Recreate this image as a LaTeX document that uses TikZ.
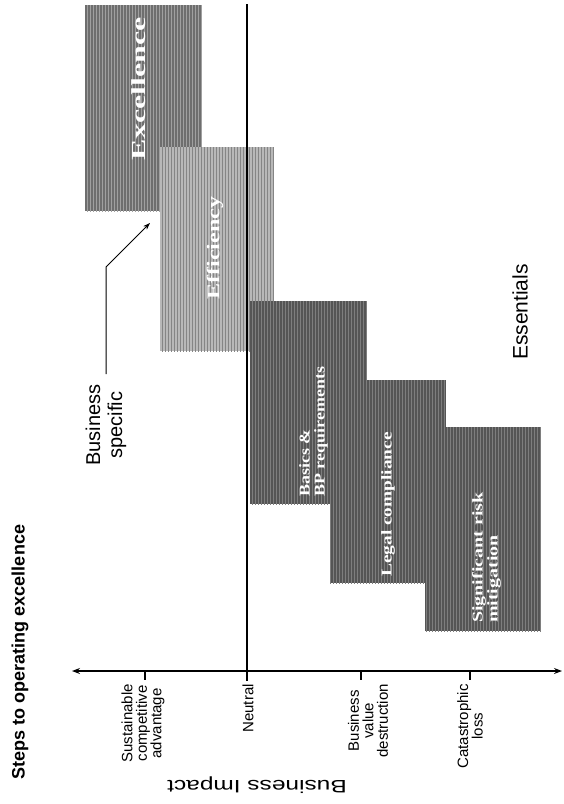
\documentclass[tikz,border=0pt]{standalone}
\usepackage{fontspec}
\usepackage{graphicx}
\setmainfont{Liberation Serif}
\setsansfont{Liberation Sans}
\usetikzlibrary{arrows.meta,patterns}
\definecolor{excfill}{HTML}{6E6E6E}
\definecolor{excline}{HTML}{A0A0A0}
\definecolor{efffill}{HTML}{B8B8B8}
\definecolor{effline}{HTML}{858585}
\definecolor{essfill}{HTML}{555555}
\definecolor{essline}{HTML}{7E7E7E}
\begin{document}
\begin{tikzpicture}[x=1pt,y=-1pt,
  box/.style={rectangle, inner sep=0pt, outer sep=0pt, draw=none},
  excbox/.style={box, preaction={fill=excfill}, pattern=vertical lines, pattern color=excline},
  effbox/.style={box, preaction={fill=efffill}, pattern=vertical lines, pattern color=effline},
  essbox/.style={box, preaction={fill=essfill}, pattern=vertical lines, pattern color=essline},
  boxtext/.style={rotate=90, text=white, inner sep=0pt, font={\fontsize{15}{15}\selectfont\rmfamily\bfseries}},
  ticklabel/.style={rotate=90, anchor=east, align=center, inner sep=0pt, font={\fontsize{15}{14.5}\selectfont\sffamily}},
  axisline/.style={line width=1.2pt, {Stealth[length=8pt,width=6pt]}-{Stealth[length=8pt,width=6pt]}},
  tickline/.style={line width=1.2pt},
  lead/.style={line width=1pt, -{Stealth[length=7pt,width=5pt]}}
]
\useasboundingbox (0,0) rectangle (563,804);

% boxes
\node[excbox, minimum width=117pt, minimum height=206pt] (exc) at (143.5,108) {};
\node[effbox, minimum width=114pt, minimum height=204pt] (eff) at (217,249) {};
\node[essbox, minimum width=117pt, minimum height=203pt] (bas) at (308.5,402.5) {};
\node[essbox, minimum width=116pt, minimum height=203pt] (leg) at (388,481.5) {};
\node[essbox, minimum width=116pt, minimum height=204pt] (sig) at (483,529) {};

% box texts
\node[boxtext, font={\fontsize{20}{20}\selectfont\rmfamily\bfseries}] (exct) at (139,89) {\scalebox{1.6}[1]{Excellence}};
\node[boxtext, font={\fontsize{18}{18}\selectfont\rmfamily\bfseries}] (efft) at (215,248) {\scalebox{1.34}[1]{Efficiency}};
\node[boxtext, anchor=west] (bast) at (314,497) {\scalebox{1.2}[1]{\begin{tabular}{@{}l@{}}Basics \&\\BP requirements\end{tabular}}};
\node[boxtext, anchor=west] (legt) at (388,577) {\scalebox{1.29}[1]{Legal compliance}};
\node[boxtext, anchor=west] (sigt) at (487,623) {\scalebox{1.33}[1]{\begin{tabular}{@{}l@{}}Significant risk\\mitigation\end{tabular}}};

% neutral line
\coordinate (ntop) at (247,4);
\coordinate (nbot) at (247,681);
\draw[line width=2.5pt] (ntop) -- (nbot);

% axis
\coordinate (axl) at (72,671);
\coordinate (axr) at (562,671);
\draw[axisline] (axl) -- (axr);
\coordinate (tsus) at (145,671);
\coordinate (tbvd) at (361,671);
\coordinate (tcat) at (470,671);
\draw[tickline] (tsus) -- ++(0,9);
\draw[tickline] (tbvd) -- ++(0,9);
\draw[tickline] (tcat) -- ++(0,9);

% tick labels
\node[ticklabel] (lsus) at (143,684) {Sustainable\\competitive\\advantage};
\node[ticklabel] (lneu) at (248,684) {Neutral};
\node[ticklabel] (lbvd) at (368,684) {Business\\value\\destruction};
\node[ticklabel] (lcat) at (470,684) {Catastrophic\\loss};

% titles
\node[rotate=90, inner sep=0pt, font={\fontsize{18}{18}\selectfont\sffamily\bfseries}] (title) at (20,652) {Steps to operating excellence};
\node[rotate=180, inner sep=0pt, font={\fontsize{18}{18}\selectfont\sffamily}] (bimp) at (257,785) {\scalebox{1.36}[1]{Business Impact}};
\node[rotate=90, inner sep=0pt, font={\fontsize{21}{21}\selectfont\sffamily}] (ess) at (520,312) {Essentials};
\node[rotate=90, inner sep=0pt, align=center, font={\fontsize{20}{22}\selectfont\sffamily}] (bs) at (106,425) {Business\\specific};

% leader arrow
\coordinate (bsbend) at (105,267);
\coordinate (bstip) at (150,223);
\draw[lead] ([yshift=10pt]bs.east) -- (bs.east |- bsbend) -- (bstip);
\end{tikzpicture}
\end{document}
